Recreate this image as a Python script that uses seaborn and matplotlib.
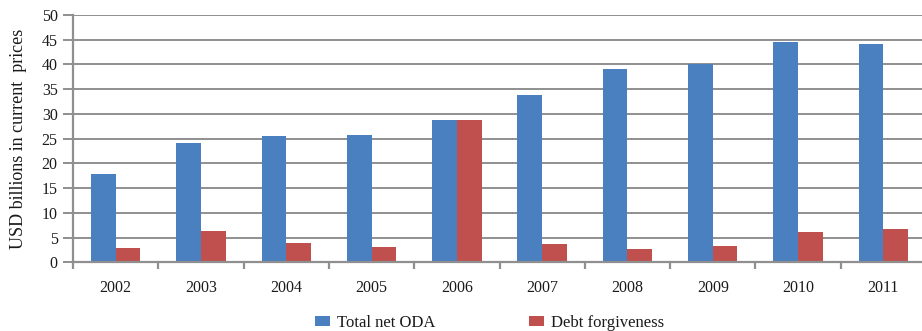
import matplotlib
matplotlib.use("Agg")
import matplotlib.pyplot as plt
from matplotlib.patches import Patch
from matplotlib.ticker import MultipleLocator, FixedLocator
import seaborn as sns
import pandas as pd

years = ["2002", "2003", "2004", "2005", "2006", "2007", "2008", "2009", "2010", "2011"]
total_net_oda = [17.8, 24.1, 25.5, 25.7, 28.8, 33.8, 39.0, 40.1, 44.5, 44.1]
debt_forgiveness = [2.8, 6.3, 4.0, 3.1, 28.8, 3.6, 2.6, 3.3, 6.1, 6.8]
series_names = ["Total net ODA", "Debt forgiveness"]
colors = ["#4A80C0", "#C0504D"]

df = pd.DataFrame({
    "year": years * 2,
    "value": total_net_oda + debt_forgiveness,
    "series": [series_names[0]] * len(years) + [series_names[1]] * len(years),
})

sns.set_theme(style="white")
plt.rcParams["font.family"] = ["Liberation Serif", "DejaVu Serif"]

grid_color = "#8F8F8F"
text_color = "#1a1a1a"

fig = plt.figure(figsize=(9.22, 3.31), dpi=100)
ax = fig.add_axes([73 / 922, 68.7 / 331, 853 / 922, 247.3 / 331])

sns.barplot(data=df, x="year", y="value", hue="series", order=years,
            hue_order=series_names, palette=colors, width=0.58,
            saturation=1, linewidth=0, ax=ax, legend=False)

ax.set_xlim(-0.5, len(years) - 0.5)
ax.set_ylim(0, 50)
ax.yaxis.set_major_locator(MultipleLocator(5))
ax.yaxis.grid(True, color=grid_color, linewidth=1.4)
ax.set_axisbelow(True)

for side in ["top", "right"]:
    ax.spines[side].set_visible(False)
for side in ["left", "bottom"]:
    ax.spines[side].set_color(grid_color)
    ax.spines[side].set_linewidth(1.6)

ax.set_xlabel("")
ax.set_ylabel("USD billions in current  prices", fontsize=13, color=text_color)
ax.yaxis.set_label_coords(-0.054, 0.5)

# category boundary ticks below the axis, labels centred on categories
ax.xaxis.set_minor_locator(FixedLocator([i - 0.5 for i in range(len(years) + 1)]))
ax.tick_params(axis="x", which="minor", bottom=True, length=5, width=1.6,
               color=grid_color, direction="out")
ax.tick_params(axis="x", which="major", bottom=False, length=0, pad=13,
               labelsize=11.5, labelcolor=text_color)
ax.tick_params(axis="y", left=True, length=7, width=1.4, color=grid_color,
               pad=4, labelsize=11.5, labelcolor=text_color)

handles = [Patch(facecolor=c, edgecolor="none", label=n)
           for c, n in zip(colors, series_names)]
fig.legend(handles=handles, loc="center", bbox_to_anchor=(0.531, 0.024),
           ncol=2, frameon=False, fontsize=12, handlelength=0.9,
           handleheight=0.6, handletextpad=0.45, columnspacing=5.6,
           labelcolor=text_color)

fig.savefig("out.png", dpi=100)
